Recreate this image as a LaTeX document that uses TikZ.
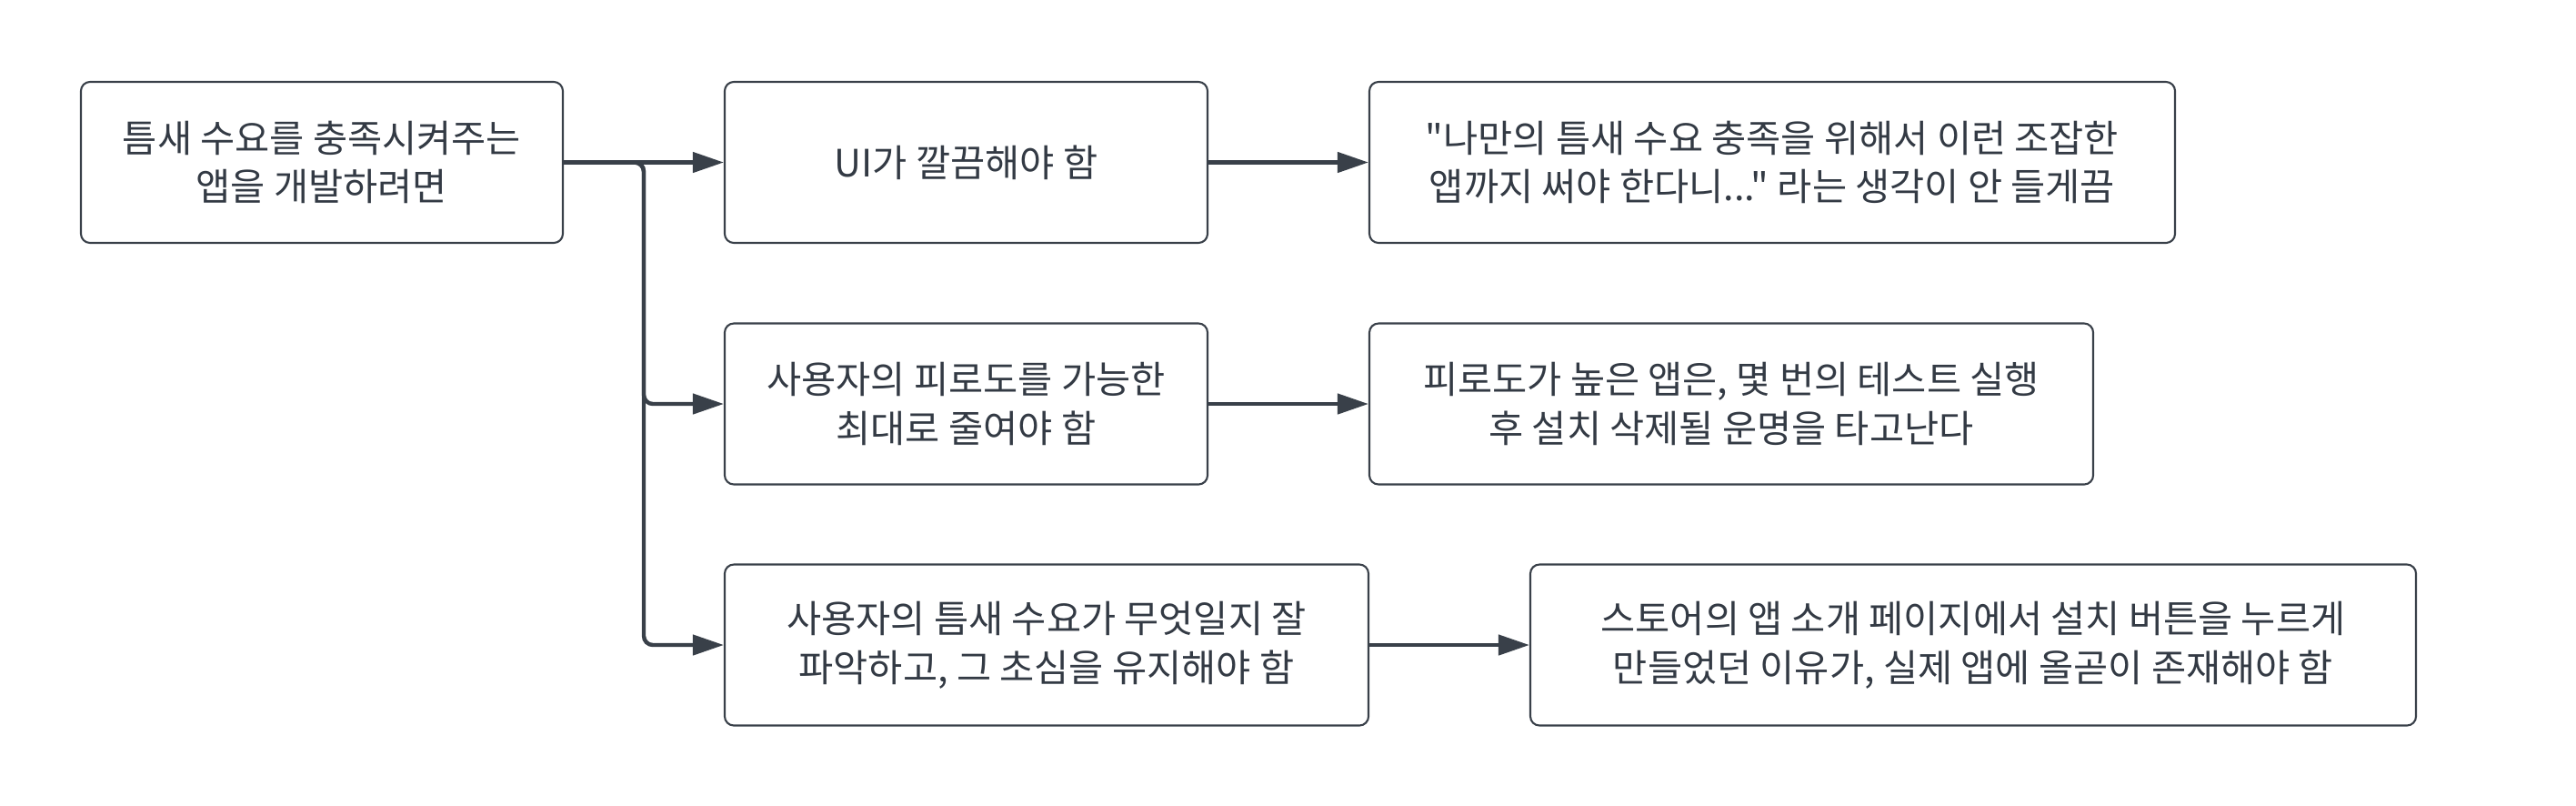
\documentclass[tikz,border=0pt]{standalone}
\usepackage{fontspec}
\newfontfamily\krfont{Noto Sans CJK KR}
\usetikzlibrary{arrows.meta}
\definecolor{linegray}{HTML}{394049}
\definecolor{textgray}{HTML}{333A44}

\begin{document}
\begin{tikzpicture}[
    box/.style={draw=linegray, line width=0.6pt, rounded corners=0.1cm, align=center,
        text=textgray, inner sep=0pt, minimum height=1.77cm,
        font=\krfont\fontsize{11.8pt}{15.3pt}\selectfont},
    link/.style={draw=linegray, line width=1.25pt, rounded corners=0.1cm,
        -{Triangle[length=0.34cm,width=0.22cm]}}
]
    \newcommand{\rowa}{-1.785}
    \newcommand{\rowb}{-4.44}
    \newcommand{\rowc}{-7.09}
    \newcommand{\trunk}{7.08}

    \useasboundingbox (0,0) rectangle (28.33,-8.85);

    % goal
    \node[box, minimum width=5.30cm] (goal) at (3.54,\rowa) {틈새 수요를 충족시켜주는\\앱을 개발하려면};

    % conditions
    \node[box, minimum width=5.31cm] (clean) at (10.625,\rowa) {UI가 깔끔해야 함};
    \node[box, minimum width=5.31cm] (fatigue) at (10.625,\rowb) {사용자의 피로도를 가능한\\최대로 줄여야 함};
    \node[box, minimum width=7.08cm] (niche) at (11.51,\rowc) {사용자의 틈새 수요가 무엇일지 잘\\파악하고, 그 초심을 유지해야 함};

    % reasons
    \node[box, minimum width=8.86cm] (quote) at (19.49,\rowa) {"나만의 틈새 수요 충족을 위해서 이런 조잡한\\앱까지 써야 한다니..." 라는 생각이 안 들게끔};
    \node[box, minimum width=7.96cm] (delete) at (19.04,\rowb) {피로도가 높은 앱은, 몇 번의 테스트 실행\\후 설치 삭제될 운명을 타고난다};
    \node[box, minimum width=9.74cm] (store) at (21.70,\rowc) {스토어의 앱 소개 페이지에서 설치 버튼을 누르게\\만들었던 이유가, 실제 앱에 올곧이 존재해야 함};

    % links
    \coordinate (fork) at (\trunk,\rowa);
    \draw[link] (goal.east) -- (clean.west);
    \draw[link] (goal.east) -- (fork) |- (fatigue.west);
    \draw[link] (goal.east) -- (fork) |- (niche.west);

    \draw[link] (clean.east) -- (quote.west);
    \draw[link] (fatigue.east) -- (delete.west);
    \draw[link] (niche.east) -- (store.west);
\end{tikzpicture}
\end{document}
